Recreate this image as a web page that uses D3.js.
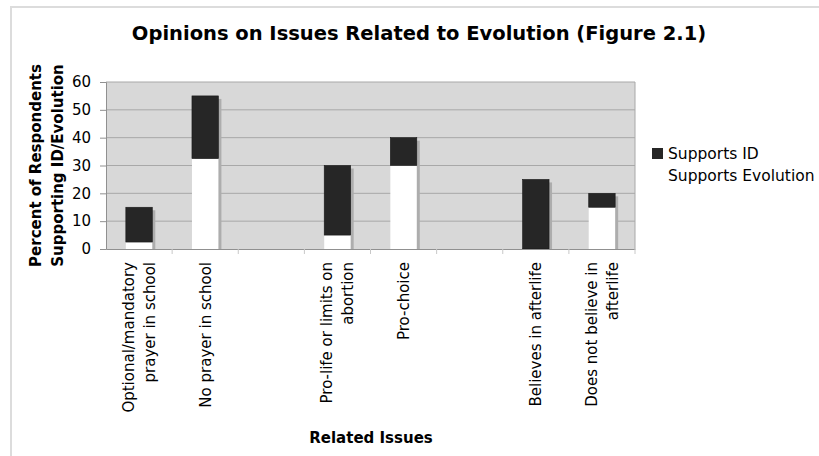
<!DOCTYPE html>
<html><head><meta charset="utf-8">
<script src="https://cdn.jsdelivr.net/npm/d3@7"></script>
<style>body{margin:0;background:#fff}svg{display:block}text{font-family:"DejaVu Sans",Verdana,sans-serif;fill:#000}</style>
</head><body><svg id="c" width="819" height="456"></svg>
<script>
const categories = [
  ["Optional/mandatory", "prayer in school"],
  ["No prayer in school"],
  [],
  ["Pro-life or limits on", "abortion"],
  ["Pro-choice"],
  [],
  ["Believes in afterlife"],
  ["Does not believe in", "afterlife"]
];
const supportsEvolution = [2.5, 32.5, null, 5, 30, null, 0, 15];
const supportsID = [12.5, 22.5, null, 25, 10, null, 25, 5];
const yTicks = [0, 10, 20, 30, 40, 50, 60];
const seriesNames = ["Supports ID", "Supports Evolution"];
const seriesColors = ["#262626", "#ffffff"];

const svg = d3.select("#c");
const m = {left: 106, right: 635, top: 82, bottom: 249};

// outer frame
svg.append("rect").attr("x", 11).attr("y", 7).attr("width", 830).attr("height", 470)
  .attr("fill", "none").attr("stroke", "#dcdcdc").attr("stroke-width", 2);

const x = d3.scaleBand().domain(d3.range(categories.length)).range([m.left, m.right]).paddingInner(0).paddingOuter(0);
const y = d3.scaleLinear().domain([0, 60]).range([m.bottom, m.top]);

// plot background
svg.append("rect").attr("x", m.left).attr("y", m.top).attr("width", m.right - m.left).attr("height", m.bottom - m.top)
  .attr("fill", "#d8d8d8");

// grid
svg.append("g").selectAll("line").data(yTicks.filter(d => d > 0)).join("line")
  .attr("x1", m.left).attr("x2", m.right).attr("y1", d => y(d)).attr("y2", d => y(d))
  .attr("stroke", "#a8a8a8").attr("stroke-width", 1);
svg.append("line").attr("x1", m.right).attr("x2", m.right).attr("y1", m.top).attr("y2", m.bottom)
  .attr("stroke", "#a8a8a8");

// bars
const bw = x.bandwidth() * 0.4;
const data = categories.map((c, i) => ({i, ev: supportsEvolution[i], id: supportsID[i]})).filter(d => d.ev !== null);
const g = svg.append("g");
data.forEach(d => {
  const cx = x(d.i) + x.bandwidth() / 2;
  const total = d.ev + d.id;
  g.append("rect").attr("x", cx - bw / 2 + 3).attr("y", y(total) + 3).attr("width", bw).attr("height", y(0) - y(total) - 3)
    .attr("fill", "#adadad");
  if (d.ev > 0) g.append("rect").attr("x", cx - bw / 2).attr("y", y(d.ev)).attr("width", bw).attr("height", y(0) - y(d.ev))
    .attr("fill", seriesColors[1]);
  g.append("rect").attr("x", cx - bw / 2).attr("y", y(total)).attr("width", bw).attr("height", y(d.ev) - y(total))
    .attr("fill", seriesColors[0]).attr("stroke", "#1a1a1a").attr("stroke-width", 0.6);
});

// y axis
const ya = svg.append("g").attr("transform", `translate(${m.left},0)`)
  .call(d3.axisLeft(y).tickValues(yTicks).tickSize(6).tickPadding(9));
ya.select(".domain").attr("stroke", "#909090");
ya.selectAll(".tick line").attr("stroke", "#909090");
ya.selectAll(".tick text").style("font-size", "15px").style("font-family", "DejaVu Sans").attr("fill", "#000");

// x axis
const xa = svg.append("g").attr("transform", `translate(0,${m.bottom})`)
  .call(d3.axisBottom(x).tickSize(0).tickFormat(""));
xa.select(".domain").attr("stroke", "#909090");
xa.selectAll(".tick").remove();
xa.selectAll(".sep").data(d3.range(1, categories.length + 1)).join("line")
  .attr("x1", i => m.left + i * x.bandwidth()).attr("x2", i => m.left + i * x.bandwidth())
  .attr("y1", 0).attr("y2", 5).attr("stroke", "#c8c8c8");

// x labels
categories.forEach((lines, i) => {
  const cx = x(i) + x.bandwidth() / 2;
  const n = lines.length;
  lines.forEach((t, k) => {
    const lx = cx + (k - (n - 1) / 2) * 21 + 5.4;
    svg.append("text").attr("transform", `translate(${lx},262) rotate(-90)`)
      .attr("text-anchor", "end").style("font-size", "15px").text(t);
  });
});

// title
svg.append("text").attr("x", 419).attr("y", 40).attr("text-anchor", "middle")
  .style("font-size", "19.5px").style("font-weight", "bold").text("Opinions on Issues Related to Evolution (Figure 2.1)");

// axis titles
svg.append("text").attr("x", 371).attr("y", 443).attr("text-anchor", "middle")
  .style("font-size", "15px").style("font-weight", "bold").text("Related Issues");
["Percent of Respondents", "Supporting ID/Evolution"].forEach((t, k) => {
  svg.append("text").attr("transform", `translate(${40.5 + k * 22},165.5) rotate(-90)`)
    .attr("text-anchor", "middle").style("font-size", "15px").style("font-weight", "bold").text(t);
});

// legend
seriesNames.forEach((s, k) => {
  const ly = 153.5 + k * 22;
  svg.append("rect").attr("x", 652).attr("y", ly - 5.5).attr("width", 11).attr("height", 11).attr("fill", seriesColors[k]);
  svg.append("text").attr("x", 668).attr("y", ly + 5).style("font-size", "15.5px").text(s);
});
</script></body></html>
